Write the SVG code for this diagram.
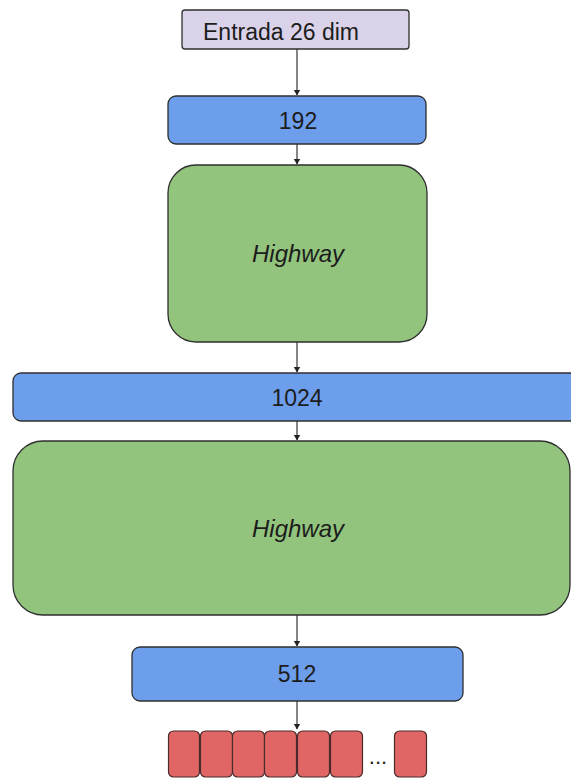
<svg xmlns="http://www.w3.org/2000/svg" width="571" height="779" viewBox="0 0 571 779">
  <style>
    .box { stroke: #2f2f2f; stroke-width: 1.3; }
    .input { fill: #d9d2e9; }
    .dense { fill: #6d9eeb; }
    .highway { fill: #93c47d; }
    .out { fill: #e06666; stroke: #4a2a2a; stroke-width: 1.2; }
    .lbl { font-family: "Liberation Sans", Arial, sans-serif; font-size: 23px; fill: #1c1c1c; text-anchor: middle; }
    .it { font-style: italic; font-size: 24px; }
    .edge { stroke: #222; stroke-width: 1.1; fill: none; marker-end: url(#arrow); }
  </style>
  <defs>
    <marker id="arrow" markerWidth="6" markerHeight="8" refX="5.5" refY="4" orient="auto" markerUnits="userSpaceOnUse">
      <path d="M0,0.5 L6,4 L0,7.5 Z" fill="#222"/>
    </marker>
  </defs>

  <rect width="571" height="779" fill="#ffffff"/>

  <!-- connectors -->
  <g id="edges">
    <line class="edge" x1="297" y1="49" x2="297" y2="95"/>
    <line class="edge" x1="297" y1="144" x2="297" y2="164"/>
    <line class="edge" x1="297" y1="342" x2="297" y2="372"/>
    <line class="edge" x1="297" y1="421" x2="297" y2="440"/>
    <line class="edge" x1="297" y1="615" x2="297" y2="646"/>
    <line class="edge" x1="297" y1="701" x2="297" y2="729"/>
  </g>

  <g id="input">
    <rect class="box input" x="182" y="10" width="227" height="39" rx="3"/>
    <text class="lbl" x="281" y="40" font-size="25">Entrada 26 dim</text>
  </g>

  <g id="dense192">
    <rect class="box dense" x="168" y="96" width="258" height="48" rx="8"/>
    <text class="lbl" x="298" y="129">192</text>
  </g>

  <g id="highway1">
    <rect class="box highway" x="168" y="165" width="259" height="177" rx="28"/>
    <text class="lbl it" x="298" y="262">Highway</text>
  </g>

  <g id="dense1024">
    <rect class="box dense" x="13" y="373" width="570" height="48" rx="8"/>
    <text class="lbl" x="297" y="406">1024</text>
  </g>

  <g id="highway2">
    <rect class="box highway" x="13" y="441" width="557" height="174" rx="30"/>
    <text class="lbl it" x="298" y="537">Highway</text>
  </g>

  <g id="dense512">
    <rect class="box dense" x="132" y="647" width="331" height="54" rx="8"/>
    <text class="lbl" x="297" y="682">512</text>
  </g>

  <g id="outputs">
    <rect class="out" x="168.5" y="731" width="31" height="46" rx="5"/>
    <rect class="out" x="200.5" y="731" width="32" height="46" rx="5"/>
    <rect class="out" x="232.5" y="731" width="32" height="46" rx="5"/>
    <rect class="out" x="264.5" y="731" width="32" height="46" rx="5"/>
    <rect class="out" x="297.5" y="731" width="32" height="46" rx="5"/>
    <rect class="out" x="330.5" y="731" width="32" height="46" rx="5"/>
    <text x="378" y="764" font-family="Liberation Sans, Arial, sans-serif" font-size="22" fill="#1c1c1c" text-anchor="middle">...</text>
    <rect class="out" x="394.5" y="731" width="32" height="46" rx="5"/>
  </g>
</svg>
